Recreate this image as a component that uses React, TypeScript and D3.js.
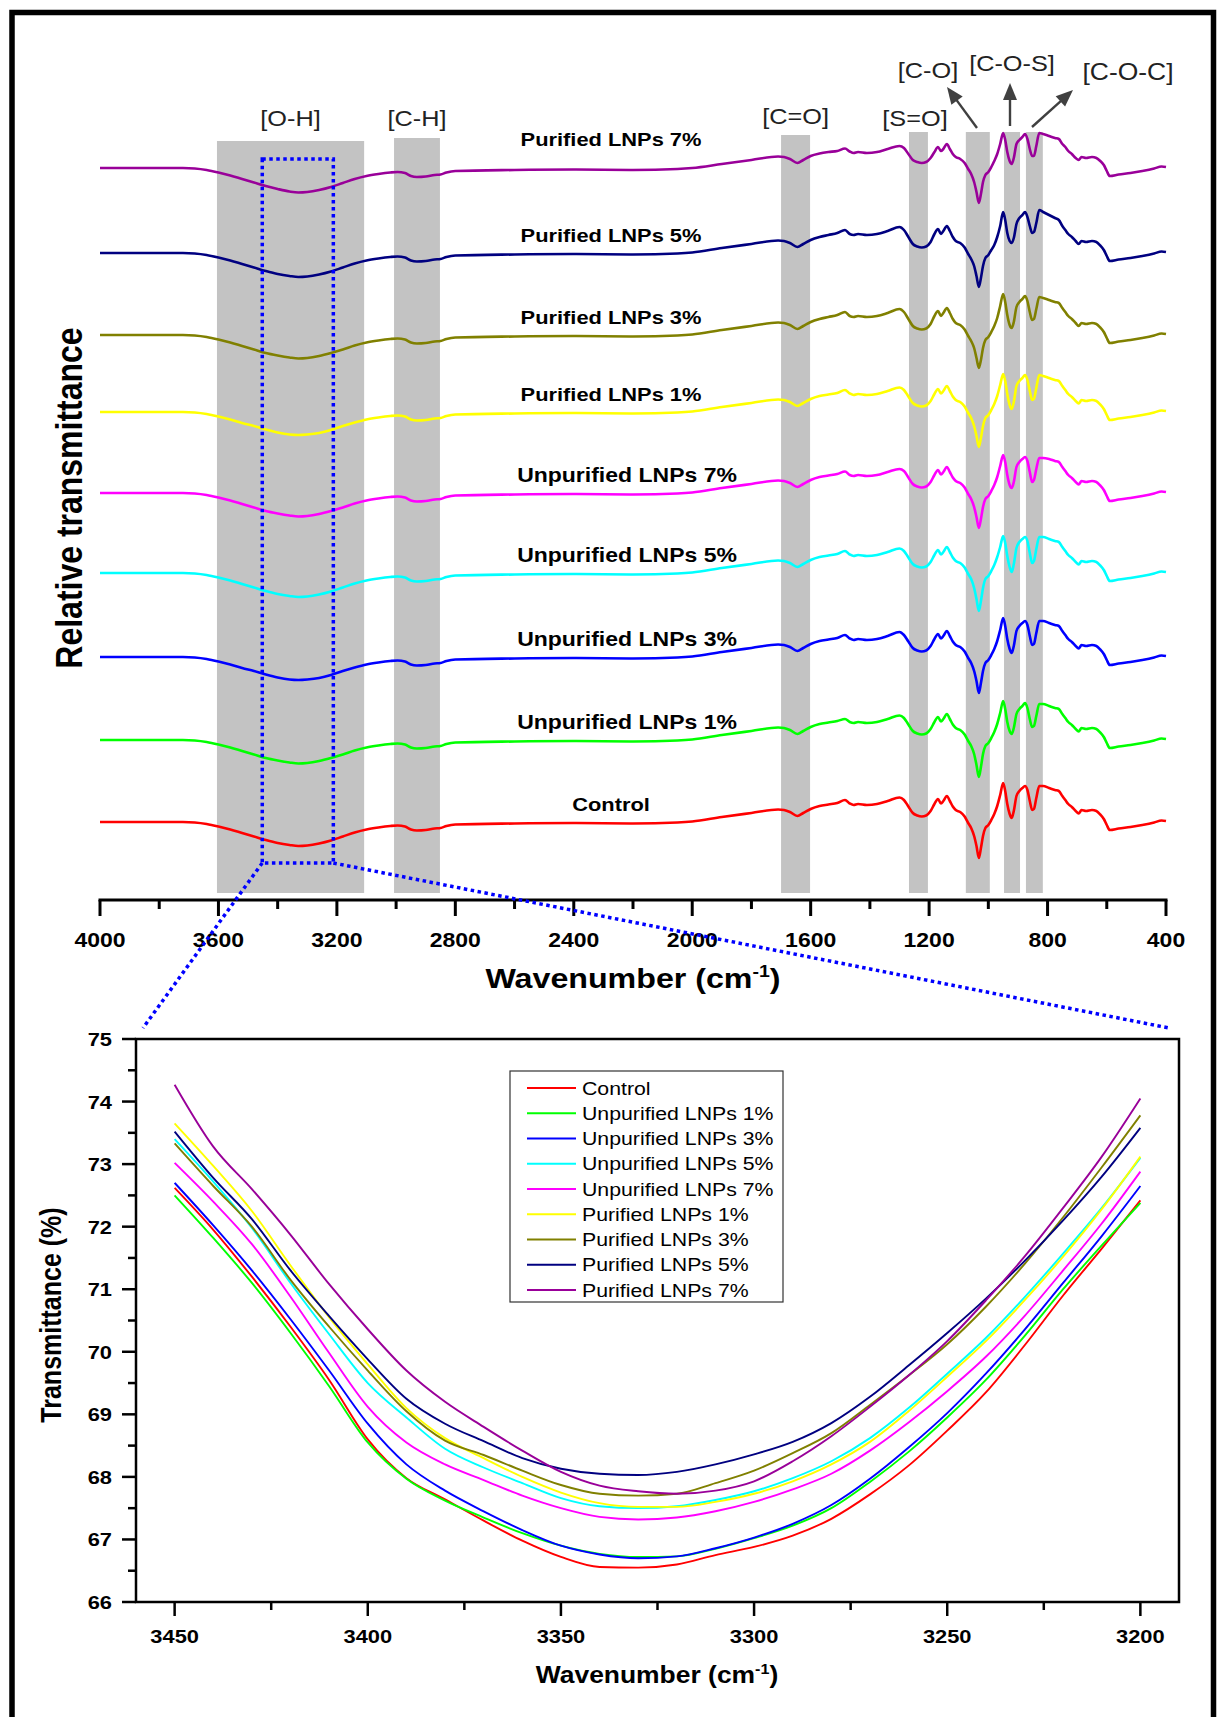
import React from 'react';
import * as d3 from 'd3';

// ---------- Upper panel: FTIR spectra (relative transmittance, a.u., stacked) ----------
const wavenumbers = [4000,3720,3680,3640,3600,3560,3520,3480,3440,3400,3360,3330,3300,3260,3220,3180,3140,3100,3060,3020,2995,2970,2950,2930,2900,2870,2850,2830,2800,2600,2400,2200,2050,2000,1900,1800,1710,1690,1670,1645,1625,1600,1570,1540,1510,1484,1468,1455,1440,1410,1376,1340,1300,1285,1270,1255,1240,1225,1210,1195,1182,1170,1160,1152,1140,1130,1120,1110,1095,1080,1068,1058,1048,1040,1032,1025,1018,1010,1000,990,980,970,960,950,943,936,928,921,914,905,895,885,876,868,860,852,846,838,828,815,795,775,762,750,740,730,718,705,695,685,670,650,635,622,610,600,590,560,520,480,440,415,400];

const seriesNames = ['Control','Unpurified LNPs 1%','Unpurified LNPs 3%','Unpurified LNPs 5%','Unpurified LNPs 7%','Purified LNPs 1%','Purified LNPs 3%','Purified LNPs 5%','Purified LNPs 7%'];
const seriesColors = ['#ff0000','#00ff00','#0000ff','#00ffff','#ff00ff','#ffff00','#808000','#000080','#990099'];
// vertical stacking offsets of the spectra (a.u.)
const stackOffsets = [78,160,243,327,407,488,565,647,732];

const specControl = [0,0,-0.5,-2,-4.5,-7.5,-11,-14.5,-18,-21,-23,-24,-23.5,-21.5,-18.5,-14.5,-10.5,-7.5,-5.5,-4,-3.5,-4.5,-7.5,-8.5,-8,-6.5,-6,-4,-2.5,-1.5,-1,-1.5,-0.5,0.5,5,9,12.5,12,10,6,9,13,16,17.5,19,22,18.5,17,18,17,18,21,24.5,22,15.5,9,6.5,5.5,6.5,11,18,23,18.5,21,26,21,15.5,12,10,5.5,-1,-6,-14,-24,-36,-26,-14,-6,-3,2,8,16,27,39,31,18,8,4,11,26,31,34,36,32,21,12,13,24,36,36,34,32,31,26,22,18,15,11,8.5,12,11,12,11,7.5,3,-3,-8,-6.5,-5,-3,-0.5,1.5,1];
const specU1 = [0,0,-0.5,-2,-4.5,-7.5,-11,-14.5,-18,-20.5,-22.5,-23.5,-23,-21,-18,-14.5,-10.5,-7.5,-5.5,-4,-3.5,-4.5,-7.5,-8.5,-8,-6.5,-6,-4,-2.5,-1.5,-1,-1.5,-0.5,0.5,5,9,12.5,12,10,6,9,13,16,17.5,19,21,18,17,18,17,18,21,24.5,22,15.5,9,6.5,5.5,6.5,11,18,23,18.5,21,26,21,15.5,12,10,5.5,-1,-6,-14,-25,-37,-27,-14,-6,-3,2,8,16,27,39,31,18,9,6,12,26,31,34,37,32,21,13,14,24,36,36,34,32,31,26,22,18,15,11,8.5,12,11,12,11,7.5,3,-3,-8,-6.5,-5,-3,-0.5,1.5,1];
const specU3 = [0,0,-0.5,-2,-4.5,-7.5,-11,-14,-17.5,-20.5,-22.5,-23,-22.5,-21,-18,-14,-10.5,-7.5,-5.5,-4,-3.5,-4.5,-7.5,-8.5,-8,-6.5,-6,-4,-2.5,-1.5,-1,-1.5,-0.5,0.5,5,9,12.5,12,10,6,9,13,16,17.5,19,22,18.5,17,18,17,18,21,25,22,15.5,9,6.5,5.5,6.5,11,18,23,18.5,21,26,21,15.5,12,10,5.5,-1,-6,-14,-24,-36,-26,-14,-6,-3,2,8,16,27,39,31,18,8,4,11,26,31,34,36,32,21,12,13,24,36,36,34,32,31,26,22,18,15,11,8.5,12,11,12,11,7.5,3,-3,-8,-6.5,-5,-3,-0.5,1.5,1];
const specU5 = [0,0,-0.5,-2,-4.5,-7.5,-11,-14.5,-18,-21,-23,-24,-23.5,-21.5,-18.5,-14.5,-10.5,-7.5,-5.5,-4,-3.5,-4.5,-7.5,-8.5,-8,-6.5,-6,-4,-2.5,-1.5,-1,-1.5,-0.5,0.5,5,9,12.5,12,10,6,9,13,16,17.5,19,22,18.5,17,18,17,18,21,24.5,22,15.5,9,6.5,5.5,6.5,11,18,23,18.5,21,26,21,15.5,12,10,5.5,-1,-6,-15,-26,-38,-28,-15,-6,-3,2,8,16,26,37,30,17,6,1,9,25,31,34,36,32,20,10,12,24,36,36,34,32,31,26,22,18,15,11,8.5,12,11,12,11,7.5,3,-3,-8,-6.5,-5,-3,-0.5,1.5,1];
const specU7 = [0,0,-0.5,-2,-4.5,-7.5,-11,-14.5,-18,-20.5,-22.5,-23.5,-23,-21,-18,-14.5,-10.5,-7.5,-5.5,-4,-3.5,-4.5,-7.5,-8.5,-8,-6.5,-6,-4,-2.5,-1.5,-1,-1.5,-0.5,0.5,5,9,12.5,12,10,6,9,13,16,17.5,19,21.5,18,17,18,17,18,21,24,22,15.5,9,6.5,5.5,6.5,11,18,23,18.5,21,26,21,15.5,12,10,5.5,-1,-6,-14,-24,-35,-26,-14,-6,-3,2,8,16,27,38,31,18,8,5,11,26,31,34,36,32,21,11,13,24,35,35,34,32,31,26,22,18,15,11,8.5,12,11,12,11,7.5,3,-3,-8,-6.5,-5,-3,-0.5,1.5,1];
const specP1 = [0,0,-0.5,-2,-4.5,-7.5,-11,-14,-17.5,-20.5,-22.5,-23,-22.5,-21,-18,-14,-10.5,-7.5,-5.5,-4,-3.5,-4.5,-7.5,-8.5,-8,-6.5,-6,-4,-2.5,-1.5,-1,-1.5,-0.5,0.5,5,9,12.5,12,10,6,9,13,16,17.5,19,22,18.5,17,18,17,18,21,24.5,22,15.5,9,6.5,5.5,6.5,11,18,23,18.5,21,26,21,15.5,12,10,5.5,-1,-6,-14,-24,-35,-26,-14,-6,-3,2,8,16,27,38,31,18,7,3,10,26,31,34,37,32,21,12,13,24,37,36,34,32,31,26,22,18,15,11,8.5,12,11,12,11,7.5,3,-3,-8,-6.5,-5,-3,-0.5,1.5,1];
const specP3 = [0,0,-0.5,-2,-4.5,-7.5,-11,-14.5,-18,-20.5,-22.5,-23.5,-23,-21,-18,-14.5,-10.5,-7.5,-5.5,-4,-3.5,-4.5,-7.5,-8.5,-8,-6.5,-6,-4,-2.5,-1.5,-1,-1.5,-0.5,0.5,5,9,12.5,12,10,6,9,13,16,18,20,23,19,18,19,18,19,22,26,23,16,9,6.5,5.5,6.5,11,19,24,19,22,27,22,16,12,10,5.5,-1,-6,-13,-23,-33,-25,-13,-5,-2,3,9,17,29,41,33,20,10,7,13,28,33,36,39,34,23,15,16,26,38,37,35,33,32,27,23,19,16,12,9,12,11,12,11,7.5,3,-3,-8,-6.5,-5,-3,-0.5,1.5,1];
const specP5 = [0,0,-0.5,-2,-4.5,-7.5,-11,-14.5,-18,-21,-23,-24,-23.5,-21.5,-18.5,-14.5,-10.5,-7.5,-5.5,-4,-3.5,-4.5,-7.5,-8.5,-8,-6.5,-6,-4,-2.5,-1.5,-1,-1.5,-0.5,0.5,5,9,12.5,12,10,6,9,13,16,18,20,23,19,18,19,18,19,22,26,23,16,9,6.5,5.5,6.5,11,19,24,19,22,27,22,16,12,10,5.5,-1,-6,-13,-23,-34,-25,-13,-5,-2,3,8,16,27,41,33,20,12,10,15,29,35,38,41,36,27,20,21,30,43,41,38,35,33,27,23,19,16,12,9,12,11,12,11,7.5,3,-3,-8,-6.5,-5,-3,-0.5,1.5,1];
const specP7 = [0,0,-0.5,-2,-4.5,-7.5,-11,-14.5,-18,-21,-23.5,-24.5,-24,-22,-19,-15,-11,-8,-6,-4.5,-4,-5,-8,-9,-8.5,-7,-6.5,-4.5,-3,-2,-1.5,-2,-1,0,4,8,11.5,11,9,5,8,12,14.5,16,17,19.5,16.5,15,16,15,16,19,22,20,14,8,6,5,6,10,16,21,17,19,24,19,14,11,9,5,-1,-6,-14,-24,-35,-26,-14,-7,-4,1,7,14,24,35,28,16,7,4,10,24,28,31,34,29,19,12,12,22,35,34,32,30,29,24,21,17,14,10,8,11,10,11,10,7,3,-3,-8,-6.5,-5,-3,-0.5,1.5,1];
const spectra = [specControl, specU1, specU3, specU5, specU7, specP1, specP3, specP5, specP7];

// functional-group bands (wavenumber range)
const bandNames = ['[O-H]','[C-H]','[C=O]','[S=O]','[C-O]','[C-O-S]','[C-O-C]'];
const bandFrom = [3605, 3007, 1700, 1268, 1076, 947, 873];
const bandTo = [3108, 2852, 1602, 1204, 995, 893, 816];

const topMajorTicks = [4000,3600,3200,2800,2400,2000,1600,1200,800,400];
const topMinorTicks = [3800,3400,3000,2600,2200,1800,1400,1000,600];

// ---------- Lower panel: O-H region zoom, transmittance (%) ----------
const zoomWn = [3450,3440,3430,3420,3410,3400,3390,3380,3370,3360,3350,3340,3330,3320,3310,3300,3290,3280,3270,3260,3250,3240,3230,3220,3210,3200];
const zControl = [72.62,71.95,71.2,70.4,69.55,68.6,67.98,67.64,67.3,66.98,66.72,66.56,66.55,66.6,66.75,66.88,67.06,67.33,67.72,68.18,68.74,69.35,70.1,70.9,71.65,72.42];
const zU1 = [72.5,71.82,71.1,70.3,69.45,68.55,67.97,67.62,67.35,67.1,66.9,66.77,66.72,66.73,66.85,67.02,67.22,67.5,67.92,68.4,68.95,69.55,70.25,71.0,71.7,72.38];
const zU3 = [72.7,72.02,71.3,70.52,69.7,68.85,68.2,67.78,67.45,67.15,66.9,66.76,66.7,66.73,66.86,67.03,67.25,67.55,67.97,68.47,69.02,69.65,70.35,71.1,71.85,72.65];
const zU5 = [73.4,72.72,71.98,71.1,70.28,69.5,68.95,68.45,68.15,67.9,67.66,67.53,67.5,67.53,67.63,67.77,67.98,68.25,68.62,69.1,69.65,70.22,70.87,71.57,72.3,73.1];
const zU7 = [73.02,72.4,71.72,70.88,69.98,69.12,68.55,68.2,67.95,67.7,67.5,67.36,67.32,67.35,67.45,67.6,67.8,68.05,68.42,68.87,69.37,69.92,70.57,71.3,72.05,72.88];
const zP1 = [73.65,72.97,72.25,71.38,70.55,69.8,69.1,68.62,68.3,68.0,67.75,67.58,67.52,67.52,67.6,67.73,67.93,68.2,68.56,69.05,69.6,70.17,70.82,71.52,72.28,73.12];
const zP3 = [73.33,72.65,72.0,71.15,70.4,69.7,69.05,68.58,68.35,68.1,67.87,67.73,67.7,67.73,67.9,68.1,68.38,68.7,69.15,69.62,70.12,70.72,71.4,72.15,72.95,73.78];
const zP5 = [73.52,72.78,72.12,71.3,70.57,69.88,69.25,68.85,68.57,68.3,68.13,68.05,68.03,68.08,68.2,68.36,68.56,68.86,69.28,69.78,70.3,70.85,71.45,72.1,72.8,73.58];
const zP7 = [74.27,73.28,72.6,71.87,71.08,70.36,69.7,69.2,68.8,68.42,68.08,67.86,67.77,67.73,67.78,67.93,68.25,68.65,69.12,69.62,70.17,70.82,71.52,72.3,73.12,74.05];
const zoomSeries = [zControl, zU1, zU3, zU5, zU7, zP1, zP3, zP5, zP7];

const lowYMajor = [66,67,68,69,70,71,72,73,74,75];
const lowYMinor = [66.5,67.5,68.5,69.5,70.5,71.5,72.5,73.5,74.5];
const lowXMajor = [3450,3400,3350,3300,3250,3200];
const lowXMinor = [3425,3375,3325,3275,3225];

// ---------- helpers ----------
const FONT = "Arial, 'Liberation Sans', Helvetica, sans-serif";
const SX = 1.15; // horizontal stretch of the original figure

function T({ x, y, size, weight = 'normal', anchor = 'middle', fill = '#000', rotate = 0, children }: any) {
  return (
    <text
      transform={`translate(${x},${y}) scale(${SX},1)${rotate ? ` rotate(${rotate})` : ''}`}
      fontFamily={FONT}
      fontSize={size}
      fontWeight={weight}
      textAnchor={anchor}
      fill={fill}
    >
      {children}
    </text>
  );
}

function Arrow({ x1, y1, x2, y2 }: any) {
  const dx = x2 - x1, dy = y2 - y1;
  const len = Math.hypot(dx, dy);
  const ux = dx / len, uy = dy / len;
  const hl = 17, hw = 7;
  const bx = x2 - ux * hl, by = y2 - uy * hl;
  const pts = `${x2},${y2} ${bx - uy * hw},${by + ux * hw} ${bx + uy * hw},${by - ux * hw}`;
  return (
    <g>
      <line x1={x1} y1={y1} x2={bx + ux * 2} y2={by + uy * 2} stroke="#404040" strokeWidth={2.4} />
      <polygon points={pts} fill="#404040" />
    </g>
  );
}

export default function App() {
  const W = 1219, H = 1717;

  // upper panel scales
  const xTop = d3.scaleLinear().domain([4000, 400]).range([100, 1166]);
  const yTop = d3.scaleLinear().domain([0, 800]).range([900, 100]);
  const axisY = 900;
  const bandTops = [141, 138, 135, 132, 132, 132, 132];
  const bandBottom = 893;

  // lower panel scales
  const xLow = d3.scaleLinear().domain([3460, 3190]).range([136, 1179]);
  const yLow = d3.scaleLinear().domain([66, 75]).range([1602, 1039]);

  const labelBaseline = (i: number) => yTop(stackOffsets[i]) - (i === 8 ? 22 : 11);
  const isUnp = (name: string) => name.startsWith('Unpurified');

  // zoom rectangle in the upper panel
  const rx1 = xTop(3452), rx2 = xTop(3212);
  const ry1 = 159, ry2 = 863;
  const dot = { stroke: '#0000ff', strokeWidth: 3.5, strokeDasharray: '3.5 3.5', fill: 'none' };

  const legendX = 510, legendY = 1071, legendW = 273, legendH = 231;

  return (
    <svg width={W} height={H} style={{ position: 'absolute', left: 0, top: 0, background: '#fff' }}>
      <rect x={0} y={0} width={W} height={H} fill="#fff" />
      {/* outer frame */}
      <path d={`M12,${H + 5} V12.5 H1213.5 V${H + 5}`} fill="none" stroke="#000" strokeWidth={5.5} />

      {/* ===== upper panel ===== */}
      {bandNames.map((b, i) => (
        <rect key={b} x={xTop(bandFrom[i])} y={bandTops[i]} width={xTop(bandTo[i]) - xTop(bandFrom[i])}
          height={bandBottom - bandTops[i]} fill="#c3c3c3" />
      ))}

      {spectra.map((s, i) => {
        const gen = d3.line<number>()
          .x((_, j) => xTop(wavenumbers[j]))
          .y((v) => yTop(stackOffsets[i] + v))
          .curve(d3.curveMonotoneX);
        return <path key={i} d={gen(s) || ''} fill="none" stroke={seriesColors[i]} strokeWidth={2.6} strokeLinejoin="round" />;
      })}

      {seriesNames.map((n, i) => (
        <T key={n} x={isUnp(n) ? 627 : 611} y={labelBaseline(i)} size={isUnp(n) ? 20 : 19} weight="bold">{n}</T>
      ))}

      {/* band labels */}
      <T x={(xTop(bandFrom[0]) + xTop(bandTo[0])) / 2} y={126} size={22} fill="#222">{bandNames[0]}</T>
      <T x={(xTop(bandFrom[1]) + xTop(bandTo[1])) / 2} y={126} size={22} fill="#222">{bandNames[1]}</T>
      <T x={(xTop(bandFrom[2]) + xTop(bandTo[2])) / 2} y={124} size={22} fill="#222">{bandNames[2]}</T>
      <T x={915} y={126} size={22} fill="#222">{bandNames[3]}</T>
      <T x={928} y={78} size={22} fill="#222">{bandNames[4]}</T>
      <T x={1012} y={71} size={22} fill="#222">{bandNames[5]}</T>
      <T x={1128} y={80} size={23} fill="#222">{bandNames[6]}</T>
      <Arrow x1={977} y1={128} x2={947} y2={87} />
      <Arrow x1={1010} y1={126} x2={1010} y2={83} />
      <Arrow x1={1032} y1={127} x2={1073} y2={90} />

      {/* x axis (upper) */}
      <line x1={xTop(4000) - 1.5} x2={xTop(400) + 1.5} y1={axisY} y2={axisY} stroke="#000" strokeWidth={3} />
      {topMajorTicks.map((t) => (
        <g key={t}>
          <line x1={xTop(t)} x2={xTop(t)} y1={axisY} y2={axisY + 16} stroke="#000" strokeWidth={3} />
          <T x={xTop(t)} y={947} size={20} weight="bold">{t}</T>
        </g>
      ))}
      {topMinorTicks.map((t) => (
        <line key={t} x1={xTop(t)} x2={xTop(t)} y1={axisY} y2={axisY + 9} stroke="#000" strokeWidth={3} />
      ))}
      <T x={633} y={988} size={28} weight="bold">
        Wavenumber (cm<tspan dy={-11} fontSize={17}>-1</tspan><tspan dy={11}>)</tspan>
      </T>
      <T x={82} y={498} size={32} weight="bold" rotate={-90}>Relative transmittance</T>

      {/* zoom indication */}
      <rect x={rx1} y={ry1} width={rx2 - rx1} height={ry2 - ry1} {...dot} />
      <line x1={rx1} y1={ry2} x2={143} y2={1028} {...dot} />
      <line x1={rx2} y1={ry2} x2={1169} y2={1028} {...dot} />

      {/* ===== lower panel ===== */}
      {zoomSeries.map((s, i) => {
        const gen = d3.line<number>()
          .x((_, j) => xLow(zoomWn[j]))
          .y((v) => yLow(v))
          .curve(d3.curveMonotoneX);
        return <path key={i} d={gen(s) || ''} fill="none" stroke={seriesColors[i]} strokeWidth={1.9} />;
      })}
      <rect x={xLow(3460)} y={yLow(75)} width={xLow(3190) - xLow(3460)} height={yLow(66) - yLow(75)}
        fill="none" stroke="#000" strokeWidth={2.5} />
      {lowYMajor.map((t) => (
        <g key={t}>
          <line x1={xLow(3460) - 14} x2={xLow(3460)} y1={yLow(t)} y2={yLow(t)} stroke="#000" strokeWidth={2.5} />
          <T x={112} y={yLow(t) + 7} size={19} weight="bold" anchor="end">{t}</T>
        </g>
      ))}
      {lowYMinor.map((t) => (
        <line key={t} x1={xLow(3460) - 8} x2={xLow(3460)} y1={yLow(t)} y2={yLow(t)} stroke="#000" strokeWidth={2.5} />
      ))}
      {lowXMajor.map((t) => (
        <g key={t}>
          <line x1={xLow(t)} x2={xLow(t)} y1={yLow(66)} y2={yLow(66) + 14} stroke="#000" strokeWidth={2.5} />
          <T x={xLow(t)} y={1643} size={19} weight="bold">{t}</T>
        </g>
      ))}
      {lowXMinor.map((t) => (
        <line key={t} x1={xLow(t)} x2={xLow(t)} y1={yLow(66)} y2={yLow(66) + 8} stroke="#000" strokeWidth={2.5} />
      ))}
      <T x={657} y={1683} size={23} weight="bold">
        Wavenumber (cm<tspan dy={-9} fontSize={14}>-1</tspan><tspan dy={9}>)</tspan>
      </T>
      <T x={61} y={1315} size={25} weight="bold" rotate={-90}>Transmittance (%)</T>

      {/* legend */}
      <rect x={legendX} y={legendY} width={legendW} height={legendH} fill="#fff" stroke="#333" strokeWidth={1.2} />
      {seriesNames.map((n, i) => {
        const cy = legendY + 17 + i * 25.25;
        return (
          <g key={n}>
            <line x1={legendX + 17} x2={legendX + 66} y1={cy} y2={cy} stroke={seriesColors[i]} strokeWidth={2} />
            <T x={legendX + 72} y={cy + 6.5} size={18.5} anchor="start">{n}</T>
          </g>
        );
      })}
    </svg>
  );
}
